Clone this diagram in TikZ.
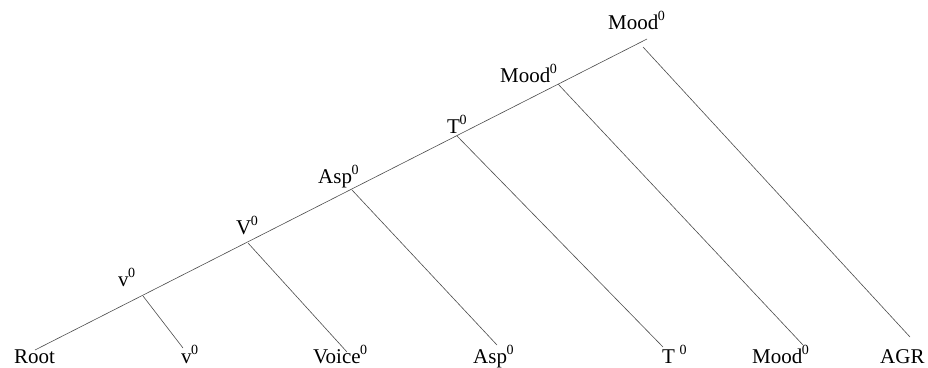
\documentclass[tikz,border=0pt]{standalone}
\usepackage{fontspec}
\setmainfont{Liberation Serif}
\newcommand{\zsup}{\kern-0.5pt\raisebox{0.42em}{\fontsize{14}{15}\selectfont 0}}
\begin{document}
\begin{tikzpicture}[x=1pt,y=-1pt,
  lbl/.style={anchor=base west,inner sep=0pt,font=\fontsize{21}{24}\selectfont},
  edge/.style={draw=black!70,line width=0.6pt}]
\useasboundingbox (0,0) rectangle (928,367);
% main spine
\coordinate (root) at (35,350);
\coordinate (top) at (647,39);
\coordinate (b1) at (143,296);
\coordinate (b2) at (248,243);
\coordinate (b3) at (352,190);
\coordinate (b4) at (457,136);
\coordinate (b5) at (558,84);
\coordinate (b6) at (643,47);
\coordinate (e1) at (183,348);
\coordinate (e2) at (347,352);
\coordinate (e3) at (497,345);
\coordinate (e4) at (663,347);
\coordinate (e5) at (803,345);
\coordinate (e6) at (910,337);
\draw[edge] (root) -- (top);
\draw[edge] (b1) -- (e1);
\draw[edge] (b2) -- (e2);
\draw[edge] (b3) -- (e3);
\draw[edge] (b4) -- (e4);
\draw[edge] (b5) -- (e5);
\draw[edge] (b6) -- (e6);
% upper labels
\node[lbl] (l1) at (118,286) {v\zsup};
\node[lbl] (l2) at (236,234) {V\zsup};
\node[lbl] (l3) at (318,183) {Asp\zsup};
\node[lbl] (l4) at (447,133) {T\zsup};
\node[lbl] (l5) at (500,82) {Mood\zsup};
\node[lbl] (l6) at (608,29) {Mood\zsup};
% bottom labels
\node[lbl] (r0) at (14,363) {Root};
\node[lbl] (r1) at (181,363) {v\zsup};
\node[lbl] (r2) at (313,363) {Voice\zsup};
\node[lbl] (r3) at (473,363) {Asp\zsup};
\node[lbl] (r4) at (662,363) {T\hspace{5pt}\zsup};
\node[lbl] (r5) at (752,363) {Mood\zsup};
\node[lbl] (r6) at (880,363) {AGR};
\end{tikzpicture}
\end{document}
